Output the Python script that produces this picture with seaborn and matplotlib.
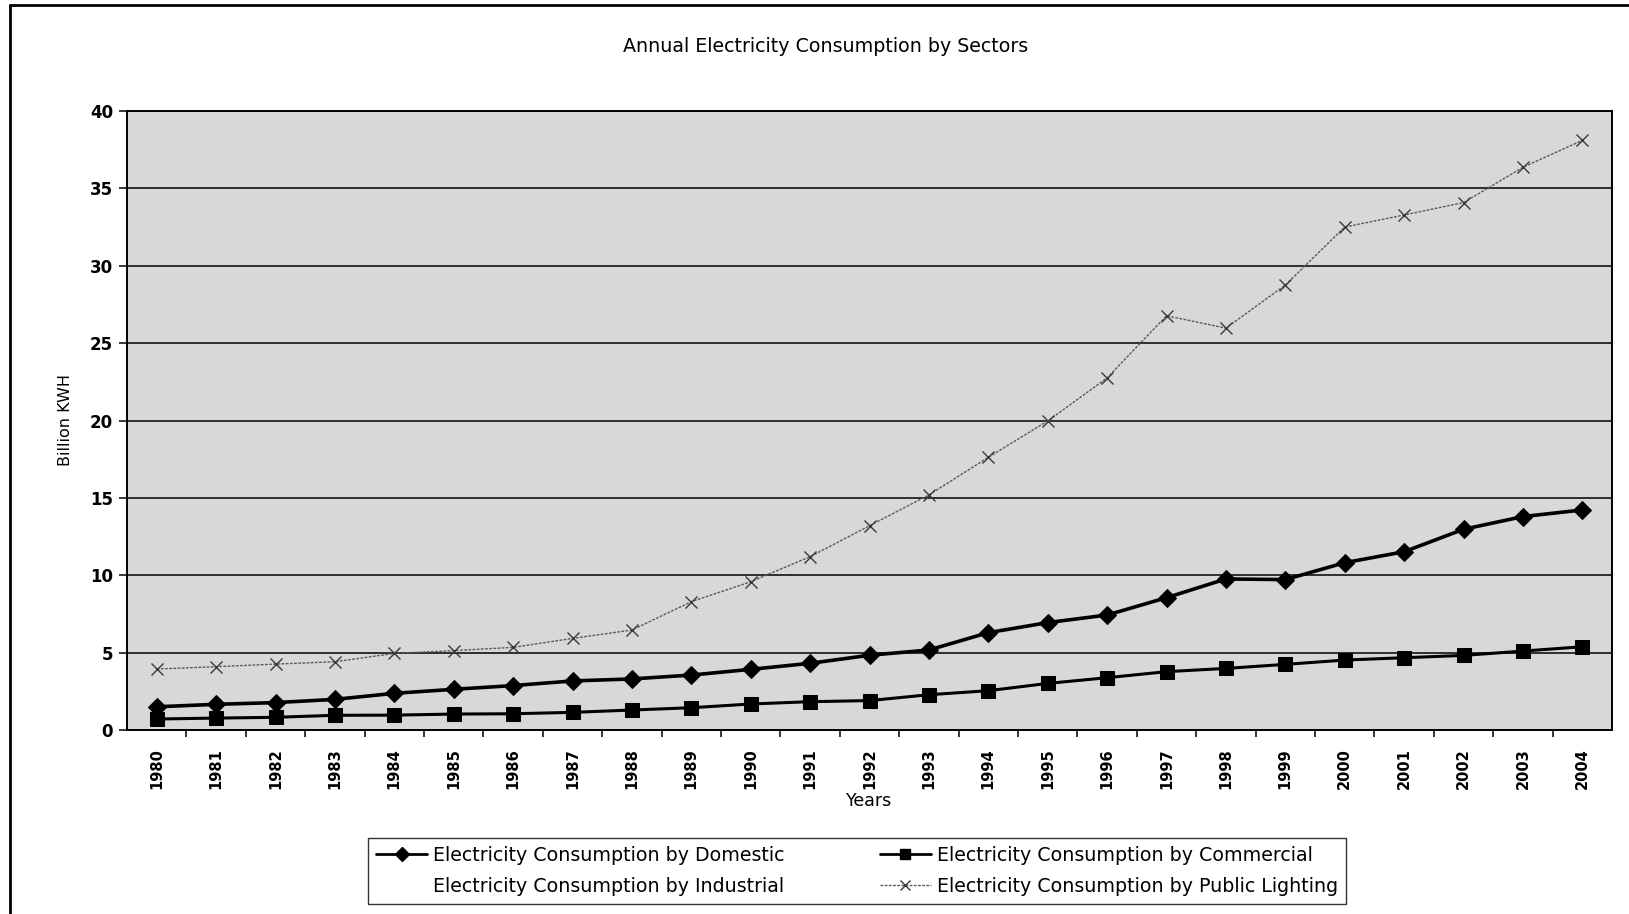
import numpy as np
import pandas as pd
import matplotlib
matplotlib.use("Agg")
import matplotlib.pyplot as plt
from matplotlib.lines import Line2D
from matplotlib.ticker import MultipleLocator, FixedLocator
import seaborn as sns

# Annual electricity consumption (billion kWh) by sector
years = list(range(1980, 2005))
domestic = [1.50, 1.66, 1.77, 1.98, 2.37, 2.63, 2.87, 3.17, 3.30, 3.55,
            3.92, 4.31, 4.83, 5.17, 6.29, 6.94, 7.43, 8.55, 9.76, 9.72,
            10.81, 11.52, 12.97, 13.79, 14.22]
commercial = [0.71, 0.77, 0.82, 0.95, 0.96, 1.03, 1.05, 1.14, 1.29, 1.44,
              1.68, 1.83, 1.90, 2.28, 2.54, 3.01, 3.38, 3.77, 3.98, 4.24,
              4.52, 4.67, 4.82, 5.10, 5.38]
public_lighting = [3.94, 4.09, 4.26, 4.41, 4.95, 5.13, 5.34, 5.92, 6.46, 8.29,
                   9.58, 11.20, 13.20, 15.19, 17.62, 19.97, 22.75, 26.77, 25.97, 28.75,
                   32.50, 33.28, 34.08, 36.36, 38.10]

labels = {
    "dom": "Electricity Consumption by Domestic",
    "com": "Electricity Consumption by Commercial",
    "ind": "Electricity Consumption by Industrial",
    "pub": "Electricity Consumption by Public Lighting",
}

df = pd.DataFrame({"Year": years, "Domestic": domestic,
                   "Commercial": commercial, "Public Lighting": public_lighting})

sns.set_style("white")
plt.rcParams["font.family"] = ["DejaVu Sans"]
plt.rcParams["text.color"] = "black"
plt.rcParams["axes.labelcolor"] = "black"
plt.rcParams["xtick.color"] = "black"
plt.rcParams["ytick.color"] = "black"

W, H = 1629, 914
fig = plt.figure(figsize=(W / 100, H / 100), dpi=100)
fig.patch.set_facecolor("white")

L, R, T, B = 127, 1612, 111, 730
ax = fig.add_axes([L / W, 1 - B / H, (R - L) / W, (B - T) / H])
ax.set_facecolor("#d8d8d8")

# horizontal gridlines
ax.set_ylim(0, 40)
ax.set_xlim(1979.5, 2004.5)
ax.yaxis.set_major_locator(MultipleLocator(5))
ax.grid(axis="y", color="black", linewidth=1.1)
ax.grid(axis="x", visible=False)
ax.set_axisbelow(True)

sns.lineplot(data=df, x="Year", y="Public Lighting", ax=ax, color="#5a5a5a",
             linewidth=1.0, linestyle=(0, (2, 1)), marker="x", markersize=9,
             markeredgewidth=1.0, markeredgecolor="#3a3a3a")
sns.lineplot(data=df, x="Year", y="Domestic", ax=ax, color="black",
             linewidth=2.6, marker="D", markersize=9.5, markeredgecolor="black")
sns.lineplot(data=df, x="Year", y="Commercial", ax=ax, color="black",
             linewidth=2.2, marker="s", markersize=10.5, markeredgecolor="black")

for s in ax.spines.values():
    s.set_color("black")
    s.set_linewidth(1.4)

# category-style x axis: labels at centres, tick marks between years
ax.xaxis.set_major_locator(FixedLocator(years))
ax.set_xticklabels([str(y) for y in years], rotation=90, fontsize=10.5,
                   fontweight="bold")
ax.xaxis.set_minor_locator(FixedLocator([y + 0.5 for y in years[:-1]]))
ax.tick_params(axis="x", which="major", length=0, pad=13)
ax.tick_params(axis="x", which="minor", length=5, width=1.1, direction="out",
               color="black", bottom=True)
ax.tick_params(axis="y", which="major", length=6, width=1.1, direction="out",
               color="black", left=True, labelsize=12, pad=4)
for t in ax.get_yticklabels():
    t.set_fontweight("bold")

ax.set_xlabel("Years", fontsize=12.5, labelpad=2)
ax.set_ylabel("Billion KWH", fontsize=11.5, labelpad=12)

fig.text(826 / W, 1 - 47 / H, "Annual Electricity Consumption by Sectors",
         ha="center", va="center", fontsize=13.7)

# outer chart border
fig.add_artist(Line2D([10 / W, 10 / W], [0, 1 - 5 / H], transform=fig.transFigure,
                      color="black", linewidth=2))
fig.add_artist(Line2D([10 / W, 1], [1 - 5 / H, 1 - 5 / H], transform=fig.transFigure,
                      color="black", linewidth=2))

handles = [
    Line2D([], [], color="black", linewidth=2.0, marker="D", markersize=7),
    Line2D([], [], color="none", linewidth=0),
    Line2D([], [], color="black", linewidth=2.0, marker="s", markersize=7),
    Line2D([], [], color="#5a5a5a", linewidth=1.0, linestyle=(0, (2, 1)),
           marker="x", markersize=7, markeredgecolor="#3a3a3a"),
]
leg_labels = [labels["dom"], labels["ind"], labels["com"], labels["pub"]]
leg = fig.legend(handles, leg_labels, loc="center",
                 bbox_to_anchor=(857 / W, 1 - 871 / H), ncol=2, frameon=True,
                 fancybox=False, edgecolor="black", fontsize=13.7,
                 handlelength=2.7, columnspacing=5.0, handletextpad=0.3,
                 labelspacing=0.62, borderpad=0.4)
leg.get_frame().set_linewidth(1.0)

fig.savefig("out.png", dpi=100, facecolor="white")
